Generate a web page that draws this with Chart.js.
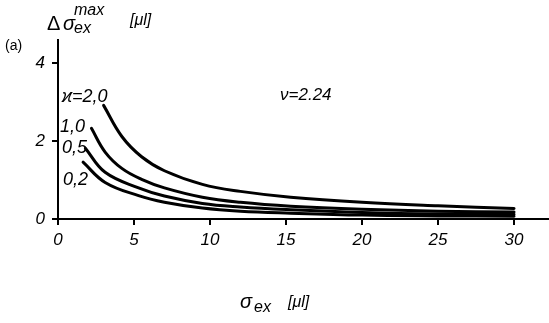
<!DOCTYPE html>
<html><head><meta charset="utf-8">
<script src="https://cdn.jsdelivr.net/npm/chart.js@4/dist/chart.umd.min.js"></script>
<style>html,body{margin:0;padding:0;background:#fff}#w{width:549px;height:323px}</style>
</head><body><div id="w"><canvas id="c" width="549" height="323"></canvas></div>
<script>
const xTicks = [0, 5, 10, 15, 20, 25, 30];
const yTicks = [0, 2, 4];
const kappaLabels = ["ϰ=2,0", "1,0", "0,5", "0,2"];
const x_k20 = [3.0, 4.2, 5.5, 7.0, 9.5, 12, 15.3, 20, 25, 30];
const y_k20 = [2.92, 2.12, 1.6, 1.24, 0.89, 0.71, 0.56, 0.43, 0.34, 0.27];
const x_k10 = [2.2, 3.1, 4.2, 5.5, 7.0, 9.5, 12, 15.3, 20, 25, 30];
const y_k10 = [2.33, 1.72, 1.3, 1.02, 0.8, 0.56, 0.43, 0.33, 0.25, 0.2, 0.18];
const x_k05 = [1.8, 3.1, 5.3, 7.0, 9.5, 12, 15.3, 20, 25, 30];
const y_k05 = [1.82, 1.2, 0.8, 0.59, 0.4, 0.31, 0.24, 0.17, 0.13, 0.12];
const x_k02 = [1.65, 3.1, 5.3, 7.0, 9.5, 12, 15.3, 20, 25, 30];
const y_k02 = [1.46, 0.94, 0.6, 0.43, 0.28, 0.2, 0.15, 0.1, 0.08, 0.07];
// label anchor positions in data units (left edge, vertical centre)
const labelX = [0.26, 0.13, 0.26, 0.33];
const labelY = [3.13, 2.36, 1.82, 1.0];
const nuLabel = "ν=2.24";
const nuX = 16.3, nuY = 3.18;

const pts = (xs, ys) => xs.map((x, i) => ({x, y: ys[i]}));
const mk = (xs, ys) => ({data: pts(xs, ys), borderColor: '#000', borderWidth: 3, pointRadius: 0, tension: 0.4, fill: false, borderCapStyle: 'round', borderJoinStyle: 'round'});

const FONT = '"Liberation Sans", "DejaVu Sans", sans-serif';

const textPlugin = {
  id: 'texts',
  afterDraw(chart) {
    const ctx = chart.ctx, xs = chart.scales.x, ys = chart.scales.y;
    ctx.save();
    ctx.fillStyle = '#000';
    ctx.textBaseline = 'middle';
    ctx.textAlign = 'left';
    ctx.font = 'italic 18px ' + FONT;
    kappaLabels.forEach((t, i) => {
      ctx.fillText(t, xs.getPixelForValue(labelX[i]), ys.getPixelForValue(labelY[i]));
    });
    ctx.font = 'italic 17px ' + FONT;
    ctx.textAlign = 'center';
    ctx.fillText(nuLabel, xs.getPixelForValue(nuX), ys.getPixelForValue(nuY));
    // (a)
    ctx.textAlign = 'left';
    ctx.font = '14px ' + FONT;
    ctx.fillText('(a)', 5, 46);
    // y axis title
    ctx.font = '20px ' + FONT;
    ctx.fillText('Δ', 47, 24);
    ctx.font = 'italic 20px ' + FONT;
    ctx.fillText('σ', 63, 24);
    ctx.font = 'italic 16px ' + FONT;
    ctx.fillText('max', 74, 11);
    ctx.fillText('ex', 74, 29);
    ctx.fillText('[μl]', 130, 21);
    // x axis title
    ctx.font = 'italic 20px ' + FONT;
    ctx.fillText('σ', 240, 302);
    ctx.font = 'italic 16px ' + FONT;
    ctx.fillText('ex', 254, 308);
    ctx.fillText('[μl]', 288, 303);
    ctx.restore();
  }
};

new Chart(document.getElementById('c'), {
  type: 'line',
  data: {datasets: [mk(x_k20, y_k20), mk(x_k10, y_k10), mk(x_k05, y_k05), mk(x_k02, y_k02)]},
  options: {
    responsive: false, animation: false,
    layout: {padding: {left: 0, top: 40, right: 0, bottom: 0}},
    plugins: {legend: {display: false}, tooltip: {enabled: false}},
    scales: {
      x: {
        type: 'linear', min: 0, max: 32.3,
        afterBuildTicks: s => { s.ticks = xTicks.map(v => ({value: v})); },
        afterFit: s => { s.height = 104; },
        border: {color: '#000', width: 2},
        grid: {display: true, drawOnChartArea: false, drawTicks: true, tickLength: 6, color: '#000', lineWidth: 2},
        ticks: {color: '#000', font: {family: FONT, size: 17, style: 'italic'}, padding: 5, maxRotation: 0}
      },
      y: {
        type: 'linear', min: 0, max: 4.6,
        afterBuildTicks: s => { s.ticks = yTicks.map(v => ({value: v})); },
        afterFit: s => { s.width = 58; },
        border: {color: '#000', width: 2},
        grid: {display: true, drawOnChartArea: false, drawTicks: true, tickLength: 6, color: '#000', lineWidth: 2},
        ticks: {color: '#000', font: {family: FONT, size: 17, style: 'italic'}, padding: 7}
      }
    }
  },
  plugins: [textPlugin]
});
</script>
</body></html>
